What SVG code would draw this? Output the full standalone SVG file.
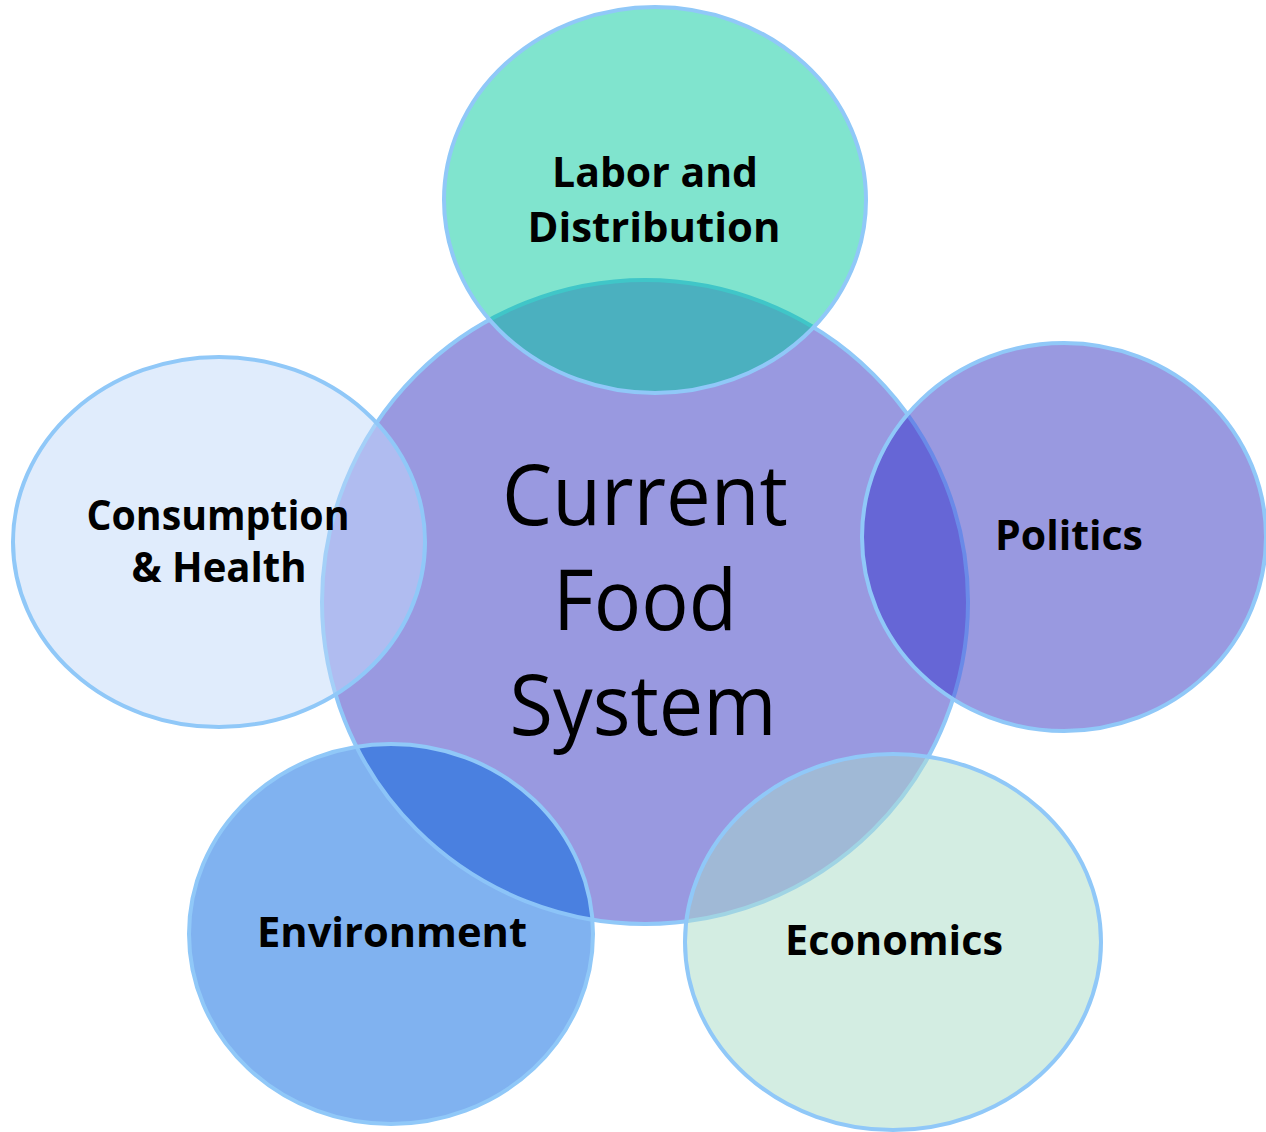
<svg xmlns="http://www.w3.org/2000/svg" width="1266" height="1132" viewBox="0 0 1266 1132">
<style>
.edge{fill:none;stroke:#90c8f8;stroke-width:4}
.lbl{font-family:"Open Sans","Noto Sans","Liberation Sans",sans-serif;font-weight:700;font-size:41px;fill:#000;text-anchor:middle}
.ttl{font-family:"Open Sans","Noto Sans","Liberation Sans",sans-serif;font-weight:400;font-size:84px;fill:#000;text-anchor:middle}
</style>
<defs>
<clipPath id="cCenter"><ellipse cx="645" cy="602" rx="323" ry="322"/></clipPath>
<clipPath id="cLabor"><ellipse cx="655" cy="200" rx="211" ry="193"/></clipPath>
<clipPath id="cPol"><ellipse cx="1064" cy="537" rx="202" ry="194"/></clipPath>
<clipPath id="cCons"><ellipse cx="219" cy="542" rx="206" ry="185"/></clipPath>
<clipPath id="cEnv"><ellipse cx="391" cy="934" rx="202" ry="190"/></clipPath>
<clipPath id="cEco"><ellipse cx="893" cy="942" rx="208" ry="188"/></clipPath>
</defs>
<rect width="1266" height="1132" fill="#ffffff"/>
<g id="center">
<ellipse cx="645" cy="602" rx="323" ry="322" fill="#9999e0" class="edge" style="fill:#9999e0"/>
</g>
<g id="node-labor"><ellipse cx="655" cy="200" rx="211" ry="193" fill="#80e4ce"/></g>
<g id="node-politics"><ellipse cx="1064" cy="537" rx="202" ry="194" fill="#9999e0"/></g>
<g id="node-consumption"><ellipse cx="219" cy="542" rx="206" ry="185" fill="#e0ecfc"/></g>
<g id="node-environment"><ellipse cx="391" cy="934" rx="202" ry="190" fill="#80b2f0"/></g>
<g id="node-economics"><ellipse cx="893" cy="942" rx="208" ry="188" fill="#d3ede2"/></g>
<g id="overlaps">
<ellipse cx="655" cy="200" rx="211" ry="193" fill="#4bb0bf" clip-path="url(#cCenter)"/>
<ellipse cx="1064" cy="537" rx="202" ry="194" fill="#6666d6" clip-path="url(#cCenter)"/>
<ellipse cx="219" cy="542" rx="206" ry="185" fill="#b0bcf0" clip-path="url(#cCenter)"/>
<ellipse cx="391" cy="934" rx="202" ry="190" fill="#4a80e0" clip-path="url(#cCenter)"/>
<ellipse cx="893" cy="942" rx="208" ry="188" fill="#a0b9d6" clip-path="url(#cCenter)"/>
<ellipse cx="645" cy="602" rx="323" ry="322" class="edge" style="stroke:#40c6c8" clip-path="url(#cLabor)"/>
<ellipse cx="645" cy="602" rx="323" ry="322" class="edge" style="stroke:#6a8ae8" clip-path="url(#cPol)"/>
<ellipse cx="645" cy="602" rx="323" ry="322" class="edge" style="stroke:#a4d0f8" clip-path="url(#cCons)"/>
<ellipse cx="645" cy="602" rx="323" ry="322" class="edge" style="stroke:#8cc4f8" clip-path="url(#cEnv)"/>
<ellipse cx="645" cy="602" rx="323" ry="322" class="edge" style="stroke:#a0d4e4" clip-path="url(#cEco)"/>
</g>
<g id="node-edges">
<ellipse cx="655" cy="200" rx="211" ry="193" class="edge"/>
<ellipse cx="1064" cy="537" rx="202" ry="194" class="edge"/>
<ellipse cx="219" cy="542" rx="206" ry="185" class="edge"/>
<ellipse cx="391" cy="934" rx="202" ry="190" class="edge"/>
<ellipse cx="893" cy="942" rx="208" ry="188" class="edge"/>
</g>
<g id="connectors"/>
<g id="labels">
<text class="ttl" x="645" y="525" textLength="286" lengthAdjust="spacingAndGlyphs">Current</text>
<text class="ttl" x="645" y="630" textLength="184" lengthAdjust="spacingAndGlyphs">Food</text>
<text class="ttl" x="643" y="735" textLength="267" lengthAdjust="spacingAndGlyphs">System</text>
<text class="lbl" x="655" y="187" textLength="206" lengthAdjust="spacingAndGlyphs">Labor and</text>
<text class="lbl" x="654" y="242" textLength="253" lengthAdjust="spacingAndGlyphs">Distribution</text>
<text class="lbl" x="218" y="530" textLength="263" lengthAdjust="spacingAndGlyphs">Consumption</text>
<text class="lbl" x="219" y="582" textLength="175" lengthAdjust="spacingAndGlyphs">&amp; Health</text>
<text class="lbl" x="1069" y="550" textLength="148" lengthAdjust="spacingAndGlyphs">Politics</text>
<text class="lbl" x="392" y="947" textLength="270" lengthAdjust="spacingAndGlyphs">Environment</text>
<text class="lbl" x="894" y="955" textLength="218" lengthAdjust="spacingAndGlyphs">Economics</text>
</g>
</svg>
